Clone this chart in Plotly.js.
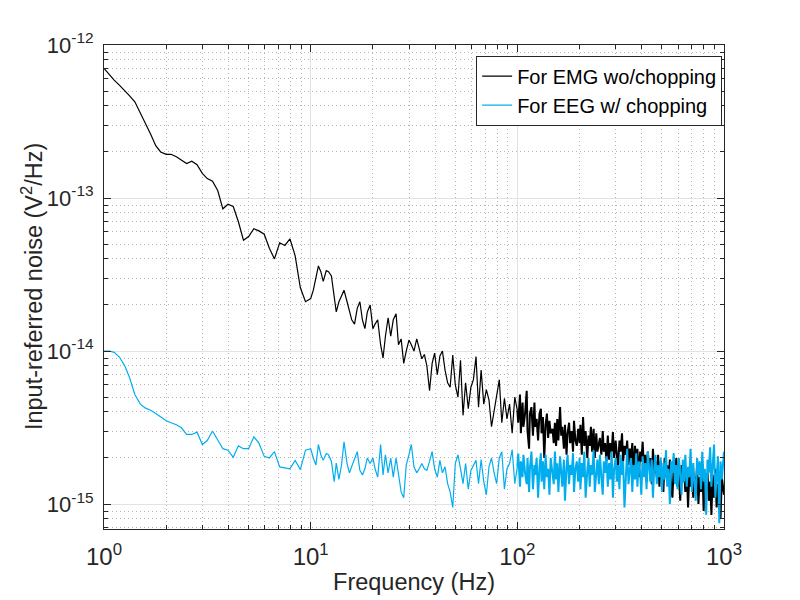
<!DOCTYPE html>
<html>
<head>
<meta charset="utf-8">
<script src="https://cdn.plot.ly/plotly-3.0.1.min.js"></script>
<style>
  body { margin: 0; background: #fff; }
  #chart { width: 800px; height: 600px; }
</style>
</head>
<body>
<div id="chart"></div>
<script>
// noise values are in units of 1e-15 V^2/Hz
var freqLow = [1, 1.06, 1.12, 1.19, 1.26, 1.33, 1.41, 1.5, 1.58, 1.68,
  1.78, 1.88, 2, 2.11, 2.24, 2.37, 2.51, 2.66, 2.82, 2.99,
  3.16, 3.35, 3.55, 3.76, 3.98, 4.22, 4.47, 4.73, 5.01, 5.31,
  5.62, 5.96, 6.31, 6.68, 7.08, 7.5, 7.94, 8.41, 8.91, 9.44]
var emgLow = [704, 640, 590, 545, 505, 465, 425, 360, 310, 262,
  220, 200, 193, 193, 186, 176, 168, 174, 165, 145,
  134, 129, 112, 85, 91, 88, 70, 53, 56, 63,
  61, 58, 47, 40, 51, 49, 54, 42, 26, 21]
var eegLow = [10, 10, 9.8, 9.1, 8, 6.7, 5.2, 4.5, 4.25, 4.1,
  3.9, 3.7, 3.5, 3.4, 3.3, 3.15, 2.85, 2.85, 2.95, 2.45,
  2.6, 3, 2.6, 2.3, 2.25, 2.02, 2.4, 2.3, 2.3, 2.75,
  2.5, 2.05, 2, 2.2, 1.75, 1.72, 1.7, 1.93, 1.68, 2.25]

var freqMid = [10, 10.3, 10.6, 10.9, 11.2, 11.5, 11.9, 12.2, 12.6, 13,
  13.3, 13.7, 14.1, 14.5, 15, 15.4, 15.8, 16.3, 16.8, 17.3,
  17.8, 18.3, 18.8, 19.4, 20, 20.5, 21.1, 21.8, 22.4, 23,
  23.7, 24.4, 25.1, 25.9, 26.6, 27.4, 28.2, 29, 29.9, 30.7,
  31.6, 32.6, 33.5, 34.5, 35.5, 36.5, 37.6, 38.7, 39.8, 41,
  42.2, 43.4, 44.7, 46, 47.3, 48.7, 50.1, 51.6, 53.1, 54.6,
  56.2, 57.9, 59.6, 61.3, 63.1, 64.9, 66.8, 68.8, 70.8, 72.9,
  75, 77.2, 79.4, 81.8, 84.1, 86.6, 89.1, 91.7, 94.4, 97.2]
var emgMid = [22, 25, 31, 36, 33, 28.5, 33.5, 33, 31, 22,
  18, 21, 23, 25, 21, 18.5, 16, 15, 19, 21,
  16, 14, 18, 20, 14, 15, 16, 11, 9, 12.5,
  16.5, 12.5, 16, 17.5, 11, 12, 8.3, 10, 11.8, 11,
  10, 12, 10.5, 8.9, 9.5, 8, 5.5, 8.3, 9.7, 7,
  9.3, 10, 7.5, 6.2, 5.8, 9.4, 6, 5, 8.7, 3.8,
  6.2, 4.2, 5.8, 6.5, 9.2, 4.3, 7.5, 4.5, 5.6, 4.8,
  3.2, 4.1, 5.3, 6.5, 3.4, 4.9, 3.6, 4.5, 2.9, 5]
var eegMid = [2.3, 2, 1.8, 2.45, 2.1, 1.93, 2.14, 2.1, 1.9, 1.4,
  1.85, 1.45, 1.8, 2.55, 1.84, 1.6, 1.75, 2, 2.2, 1.66,
  1.55, 1.7, 2, 1.84, 2, 1.7, 1.5, 2.45, 1.55, 2.1,
  1.6, 2, 1.5, 2, 1.6, 1.2, 1.1, 1.8, 2.1, 2.45,
  1.75, 1.6, 1.7, 1.84, 1.7, 1.66, 1.9, 2.2, 1.7, 1.5,
  1.93, 1.6, 1.75, 1.36, 1.2, 0.95, 1.84, 2.1, 1.7, 1.36,
  1.84, 1.25, 1.66, 1.8, 1.93, 1.36, 1.95, 1.4, 1.15, 1.75,
  2, 1.6, 1.36, 2, 2.2, 1.25, 1.7, 1.84, 2.27, 1.36]

var freqHigh = [100, 101, 103, 104, 106, 107, 109, 111, 112, 114,
  115, 117, 119, 121, 122, 124, 126, 128, 130, 131,
  133, 135, 137, 139, 141, 143, 145, 148, 150, 152,
  154, 156, 158, 161, 163, 165, 168, 170, 173, 175,
  178, 180, 183, 186, 188, 191, 194, 197, 200, 202,
  205, 208, 211, 214, 218, 221, 224, 227, 230, 234,
  237, 241, 244, 248, 251, 255, 259, 262, 266, 270,
  274, 278, 282, 286, 290, 294, 299, 303, 307, 312,
  316, 321, 325, 330, 335, 340, 345, 350, 355, 360,
  365, 371, 376, 381, 387, 393, 398, 404, 410, 416,
  422, 428, 434, 440, 447, 453, 460, 466, 473, 480,
  487, 494, 501, 509, 516, 524, 531, 539, 547, 555,
  563, 571, 579, 588, 596, 605, 614, 623, 632, 641,
  650, 660, 670, 679, 689, 699, 710, 720, 730, 741,
  752, 763, 774, 785, 797, 808, 820, 832, 844, 857,
  869, 882, 895, 908, 921, 935, 949, 962, 976, 1000]
var emgHigh = [4.1, 3.4, 5.2, 2.9, 4.6, 3.2, 3.9, 5.5, 3.0, 2.3,
  3.9, 4.3, 2.8, 4.6, 3.2, 3.6, 2.6, 3.9, 4.2, 2.9,
  3.7, 2.0, 3.3, 3.9, 2.7, 3.5, 2.9, 3.1, 2.5, 3.4,
  2.4, 3.6, 2.6, 4.3, 2.8, 3.2, 2.3, 3.3, 2.1, 2.9,
  3.4, 2.5, 3.0, 2.2, 3.5, 2.6, 2.4, 3.1, 2.5, 3.3,
  2.1, 3.7, 2.4, 3.0, 2.0, 2.8, 2.4, 3.2, 2.2, 3.1,
  2.0, 2.9, 2.2, 2.6, 2.7, 2.1, 3.0, 2.2, 2.5, 1.9,
  2.8, 1.95, 2.5, 2.2, 2.95, 2.0, 2.6, 2.1, 1.75, 2.6,
  2.2, 2.9, 1.9, 2.4, 2.1, 2.6, 1.8, 2.3, 2.0, 2.5,
  1.55, 2.4, 1.8, 2.3, 1.5, 2.2, 1.9, 2.55, 1.7, 2.1,
  1.4, 2.2, 1.7, 2.0, 1.35, 2.3, 1.6, 1.9, 1.5, 2.1,
  1.3, 1.9, 1.6, 1.2, 2.0, 1.5, 1.8, 1.4, 1.95, 1.3,
  1.1, 1.75, 1.5, 2.0, 1.3, 1.6, 1.05, 1.8, 1.4, 1.65,
  1.2, 1.7, 0.95, 1.55, 1.3, 1.75, 1.1, 1.5, 1.25, 1.8,
  1.0, 1.5, 1.2, 1.85, 0.9, 1.45, 1.25, 1.6, 1.05, 1.4,
  0.85, 1.55, 1.1, 1.7, 0.95, 1.35, 1.2, 0.8, 1.5, 1.15]
var eegHigh = [1.75, 2.14, 1.3, 1.9, 1.5, 2.1, 1.6, 1.35, 2.0, 1.2,
  1.7, 2.2, 1.25, 1.8, 1.55, 2.0, 1.1, 1.75, 2.15, 1.4,
  1.9, 1.25, 2.1, 1.5, 1.7, 1.15, 2.0, 1.6, 1.35, 2.2,
  1.45, 1.85, 1.2, 2.05, 1.6, 1.3, 1.95, 1.05, 1.75, 2.1,
  1.35, 1.8, 1.55, 2.15, 1.2, 1.7, 1.9, 1.4, 2.0, 1.25,
  1.85, 1.5, 2.2, 1.1, 1.65, 2.0, 1.3, 1.8, 1.55, 2.25,
  1.2, 1.75, 1.95, 1.35, 2.1, 1.5, 1.15, 1.9, 1.6, 2.05,
  1.3, 1.85, 1.45, 2.2, 1.1, 1.7, 2.0, 1.4, 1.8, 1.25,
  2.1, 1.55, 1.9, 0.95, 1.75, 2.3, 1.35, 1.65, 2.0, 1.2,
  1.8, 1.45, 2.15, 1.3, 1.9, 1.6, 1.15, 2.05, 1.5, 1.85,
  1.25, 2.2, 1.6, 1.4, 1.95, 1.1, 1.75, 2.1, 1.35, 1.8,
  1.5, 2.0, 1.2, 1.85, 1.45, 2.25, 1.3, 1.7, 1.0, 1.9,
  1.6, 2.15, 1.35, 1.8, 1.25, 2.0, 1.55, 1.15, 1.95, 1.4,
  2.1, 1.3, 1.75, 1.5, 2.3, 1.2, 1.85, 1.45, 1.05, 2.0,
  1.55, 1.9, 1.25, 2.2, 1.4, 1.7, 0.85, 1.95, 1.6, 2.35,
  1.3, 1.8, 2.45, 1.1, 1.65, 2.05, 0.75, 1.9, 1.45, 2.2]

var xTickVals = [1, 10, 100, 1000]
var xTickText = ['10<sup>0</sup>', '10<sup>1</sup>', '10<sup>2</sup>', '10<sup>3</sup>']
var yTickVals = [1e-15, 1e-14, 1e-13, 1e-12]
var yTickText = ['10<sup>-15</sup>', '10<sup>-14</sup>', '10<sup>-13</sup>', '10<sup>-12</sup>']

var toV2 = function (v) { return v * 1e-15 }
// smooth part (1-100 Hz) and the dense FFT part (100-1000 Hz) are drawn
// as two pieces so the dense band can use a heavier stroke
var freqA = freqLow.concat(freqMid, freqHigh.slice(0, 1))
var emgA = emgLow.concat(emgMid, emgHigh.slice(0, 1)).map(toV2)
var eegA = eegLow.concat(eegMid, eegHigh.slice(0, 1)).map(toV2)
var emgB = emgHigh.map(toV2)
var eegB = eegHigh.map(toV2)

// minor ticks / dotted grid at 2..9 of every decade
function minorVals (lo, hi) {
  var out = []
  for (var e = lo; e <= hi; e++) {
    for (var m = 2; m <= 9; m++) out.push(m * Math.pow(10, e))
  }
  return out
}

var FONT = 'Liberation Sans, Arial, Helvetica, sans-serif'
var EMG_COLOR = '#000000'
var EEG_COLOR = '#00aeef'

var axisBase = {
  type: 'log',
  showline: true,
  linecolor: '#262626',
  linewidth: 1,
  mirror: 'allticks',
  ticks: 'inside',
  ticklen: 7,
  tickcolor: '#262626',
  tickmode: 'array',
  showgrid: true,
  gridcolor: '#e3e3e3',
  gridwidth: 1,
  zeroline: false,
  tickfont: { family: FONT, size: 24, color: '#262626' },
  minor: {
    ticks: 'inside',
    ticklen: 4,
    tickcolor: '#262626',
    showgrid: true,
    gridcolor: '#b5b5b5',
    griddash: '1px,3px',
    gridwidth: 1
  }
}

var xaxis = Object.assign({}, axisBase, {
  range: [0, 3],
  tickvals: xTickVals,
  ticktext: xTickText,
  ticklabelstandoff: 6,
  title: { text: 'Frequency (Hz)', standoff: 4, font: { family: FONT, size: 23.5, color: '#262626' } }
})
xaxis.minor = Object.assign({}, axisBase.minor, { tickmode: 'array', tickvals: minorVals(0, 2) })

var yaxis = Object.assign({}, axisBase, {
  range: [Math.log10(6.87e-16), -12],
  tickvals: yTickVals,
  ticktext: yTickText,
  ticklabelstandoff: 5,
  tickfont: { family: FONT, size: 22, color: '#262626' }
})
yaxis.minor = Object.assign({}, axisBase.minor, { tickmode: 'array', tickvals: minorVals(-16, -13) })

Plotly.newPlot('chart', [{
  x: freqA, y: emgA, type: 'scatter', mode: 'lines',
  name: 'For EMG wo/chopping', legendgroup: 'emg',
  line: { color: EMG_COLOR, width: 1.2 }
}, {
  x: freqHigh, y: emgB, type: 'scatter', mode: 'lines',
  name: 'For EMG wo/chopping', legendgroup: 'emg', showlegend: false,
  line: { color: EMG_COLOR, width: 2 }
}, {
  x: freqA, y: eegA, type: 'scatter', mode: 'lines',
  name: 'For EEG w/ chopping', legendgroup: 'eeg',
  line: { color: EEG_COLOR, width: 1.2 }
}, {
  x: freqHigh, y: eegB, type: 'scatter', mode: 'lines',
  name: 'For EEG w/ chopping', legendgroup: 'eeg', showlegend: false,
  line: { color: EEG_COLOR, width: 2 }
}], {
  width: 800,
  height: 600,
  margin: { l: 104, r: 76, t: 45, b: 71 },
  paper_bgcolor: '#ffffff',
  plot_bgcolor: '#ffffff',
  showlegend: true,
  legend: {
    x: 0.997,
    xanchor: 'right',
    y: 0.978,
    yanchor: 'top',
    bgcolor: '#ffffff',
    bordercolor: '#262626',
    borderwidth: 1,
    tracegroupgap: 0,
    itemwidth: 30,
    font: { family: FONT, size: 20, color: '#000000' }
  },
  // y title placed by hand, closer to the tick labels like the original
  annotations: [{
    text: 'Input-referred noise (V<sup>2</sup>/Hz)',
    xref: 'paper', yref: 'paper',
    x: -0.116, y: 0.5,
    xanchor: 'center', yanchor: 'middle',
    textangle: -90,
    showarrow: false,
    font: { family: FONT, size: 23.5, color: '#262626' }
  }],
  xaxis: xaxis,
  yaxis: yaxis
}, { displayModeBar: false, staticPlot: true })
</script>
</body>
</html>
